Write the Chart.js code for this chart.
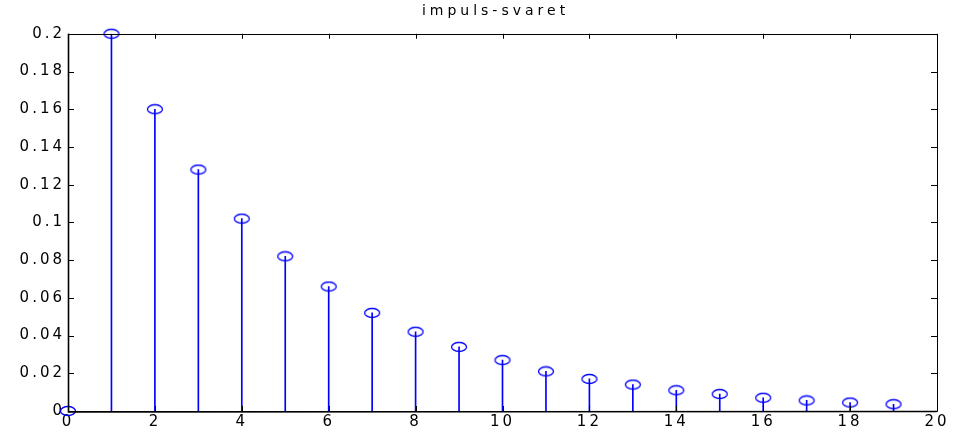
<!DOCTYPE html>
<html>
<head>
<meta charset="utf-8">
<script src="https://cdn.jsdelivr.net/npm/chart.js@4/dist/chart.umd.min.js"></script>
<style>
  html, body { margin: 0; padding: 0; background: #fff; }
  #wrap { width: 955px; height: 436px; }
</style>
</head>
<body>
<div id="wrap"><canvas id="impuls"></canvas></div>
<script>
const n = [0,1,2,3,4,5,6,7,8,9,10,11,12,13,14,15,16,17,18,19];
const h = [0, 0.2, 0.16, 0.128, 0.102, 0.082, 0.066, 0.052, 0.042, 0.034,
           0.027, 0.021, 0.017, 0.014, 0.011, 0.009, 0.007, 0.0056, 0.0045, 0.0036];
const xTicks = [0,2,4,6,8,10,12,14,16,18,20];
const yTicks = [0,0.02,0.04,0.06,0.08,0.1,0.12,0.14,0.16,0.18,0.2];

const punkter = n.map((x, i) => ({ x: x, y: h[i] }));

// hollow ellipse marker, like matlab's stem 'o'
const ring = document.createElement('canvas');
ring.width = 18; ring.height = 12;
(function () {
  const c = ring.getContext('2d');
  c.strokeStyle = '#0000ff';
  c.lineWidth = 1.3;
  c.beginPath();
  c.ellipse(9, 6, 7.5, 4.5, 0, 0, Math.PI * 2);
  c.stroke();
})();

// matlab text comes out wide, fake it with a wide font + letter spacing
const spacing = {
  id: 'spacing',
  afterInit(chart) {
    const tb = chart.titleBlock;
    if (tb) {
      const orig = tb.draw.bind(tb);
      tb.draw = function () {
        const ctx = chart.ctx;
        ctx.save();
        ctx.letterSpacing = '4px';
        // center over the axes, not over the whole canvas
        const a = chart.chartArea;
        ctx.translate((a.left + a.right) / 2 - chart.width / 2 + 2, 0);
        orig();
        ctx.restore();
      };
    }
  },
  beforeLayout(chart) { chart.ctx.letterSpacing = '3px'; },
  beforeDraw(chart) { chart.ctx.letterSpacing = '3px'; }
};

// box around the axes with ticks pointing inwards on all four sides
const boks = {
  id: 'boks',
  afterDraw(chart) {
    const ctx = chart.ctx, a = chart.chartArea;
    const xs = chart.scales.x, ys = chart.scales.y;
    ctx.save();
    ctx.strokeStyle = '#000';
    ctx.lineWidth = 1;
    ctx.beginPath();
    ctx.rect(Math.round(a.left) + 0.5, Math.round(a.top) + 0.5,
             Math.round(a.right - a.left), Math.round(a.bottom - a.top));
    xTicks.forEach(v => {
      const px = Math.round(xs.getPixelForValue(v)) + 0.5;
      ctx.moveTo(px, a.bottom); ctx.lineTo(px, a.bottom - 5);
      ctx.moveTo(px, a.top); ctx.lineTo(px, a.top + 5);
    });
    yTicks.forEach(v => {
      const py = Math.round(ys.getPixelForValue(v)) + 0.5;
      ctx.moveTo(a.left, py); ctx.lineTo(a.left + 6, py);
      ctx.moveTo(a.right, py); ctx.lineTo(a.right - 6, py);
    });
    ctx.stroke();
    // matlab's left and bottom axis lines look a bit heavier
    ctx.beginPath();
    ctx.moveTo(Math.round(a.left) + 0.5, a.top);
    ctx.lineTo(Math.round(a.left) + 0.5, a.bottom + 1);
    ctx.lineTo(a.right, Math.round(a.bottom) + 0.5);
    ctx.lineWidth = 1.6;
    ctx.stroke();
    ctx.restore();
  }
};

new Chart(document.getElementById('impuls'), {
  data: {
    datasets: [{
      type: 'scatter',
      data: punkter,
      pointStyle: ring,
      pointRadius: 6,
      clip: false,
      order: 0
    }, {
      type: 'bar',
      data: punkter,
      backgroundColor: '#0000ff',
      barThickness: 1,
      order: 1
    }]
  },
  options: {
    responsive: true,
    maintainAspectRatio: false,
    animation: false,
    events: [],
    layout: { padding: { left: 0, right: 18, top: 0, bottom: 0 } },
    plugins: {
      legend: { display: false },
      tooltip: { enabled: false },
      title: {
        display: true,
        text: 'impuls-svaret',
        color: '#000',
        font: { family: 'DejaVu Sans', size: 14, weight: 'normal' },
        padding: { top: 3, bottom: 14 }
      }
    },
    scales: {
      x: {
        type: 'linear',
        min: 0, max: 20,
        offset: false,
        afterBuildTicks: s => { s.ticks = xTicks.map(v => ({ value: v })); },
        afterFit: s => { s.height = 25; },
        grid: { display: false, drawTicks: false, offset: false },
        border: { display: false },
        ticks: {
          color: '#000',
          padding: 2,
          maxRotation: 0,
          font: { family: 'DejaVu Sans', size: 15 }
        }
      },
      y: {
        min: 0, max: 0.2,
        afterBuildTicks: s => { s.ticks = yTicks.map(v => ({ value: v })); },
        afterFit: s => { s.width = 68; },
        grid: { display: false, drawTicks: false },
        border: { display: false },
        ticks: {
          color: '#000',
          padding: 3,
          callback: v => String(+v.toFixed(2)),
          font: { family: 'DejaVu Sans', size: 15 }
        }
      }
    }
  },
  plugins: [spacing, boks]
});
</script>
</body>
</html>
